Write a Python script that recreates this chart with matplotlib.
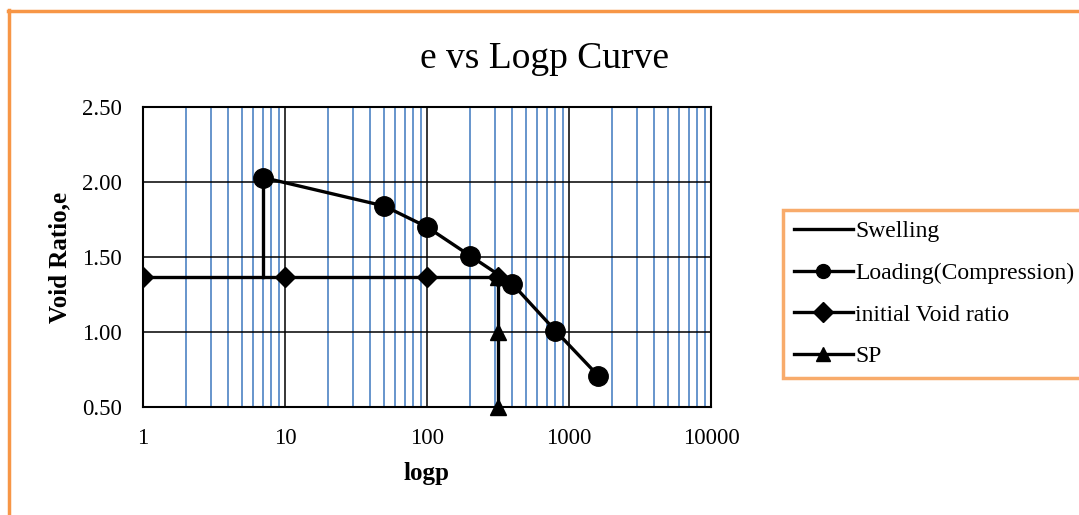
import matplotlib
matplotlib.use("Agg")
import matplotlib.pyplot as plt
from matplotlib.ticker import LogLocator, FixedLocator, NullFormatter, FixedFormatter
from matplotlib.lines import Line2D

# ---- data ----
swell_p = [7, 7]
swell_e = [1.37, 2.03]

load_p = [7, 50, 100, 200, 400, 800, 1600]
load_e = [2.03, 1.84, 1.70, 1.51, 1.32, 1.01, 0.71]

init_p = [1, 10, 100, 316]
init_e = [1.37, 1.37, 1.37, 1.37]

sp_p = [316, 316, 316]
sp_e = [1.37, 1.00, 0.50]

x_ticks = [1, 10, 100, 1000, 10000]
x_tick_labels = ["1", "10", "100", "1000", "10000"]
y_ticks = [0.5, 1.0, 1.5, 2.0, 2.5]
y_tick_labels = ["0.50", "1.00", "1.50", "2.00", "2.50"]

ORANGE = "#F79646"
BLUE = "#5B8CC8"

plt.rcParams["font.family"] = ["Liberation Serif", "DejaVu Serif"]

W, H = 1079, 515
fig = plt.figure(figsize=(W / 100, H / 100), dpi=100)
ax = fig.add_axes([143 / W, 1 - 407 / H, (711 - 143) / W, (407 - 107) / H])

lw = 2.4
ax.plot(swell_p, swell_e, color="black", lw=lw, label="Swelling", zorder=3)
ax.plot(load_p, load_e, color="black", lw=lw, marker="o", ms=14, label="Loading(Compression)", zorder=4)
ax.plot(init_p, init_e, color="black", lw=lw, marker="D", ms=10.5, label="initial Void ratio", zorder=3)
ax.plot(sp_p, sp_e, color="black", lw=lw, marker="^", ms=11, label="SP", zorder=5, clip_on=False)

ax.set_xscale("log")
ax.set_xlim(1, 10000)
ax.set_ylim(0.5, 2.5)

ax.xaxis.set_major_locator(FixedLocator(x_ticks))
ax.xaxis.set_major_formatter(FixedFormatter(x_tick_labels))
ax.xaxis.set_minor_locator(LogLocator(base=10, subs=range(2, 10)))
ax.xaxis.set_minor_formatter(NullFormatter())
ax.yaxis.set_major_locator(FixedLocator(y_ticks))
ax.yaxis.set_major_formatter(FixedFormatter(y_tick_labels))

ax.grid(which="minor", axis="x", color=BLUE, lw=1.3, zorder=0)
ax.grid(which="major", axis="both", color="black", lw=1.1, zorder=1)
ax.set_axisbelow(True)

for s in ax.spines.values():
    s.set_linewidth(1.5)
    s.set_color("black")

ax.tick_params(which="both", length=0)
ax.tick_params(axis="y", pad=15, labelsize=16.5)
ax.tick_params(axis="x", pad=15, labelsize=16.5)

ax.set_xlabel("logp", fontsize=18, fontweight="bold")
ax.xaxis.set_label_coords(0.5, -0.183)
ax.set_ylabel("Void Ratio,e", fontsize=18, fontweight="bold")
ax.yaxis.set_label_coords(-0.146, 0.5)
ax.yaxis.label.set_va("center")

fig.text(545 / W, 1 - 68 / H, "e vs Logp Curve", fontsize=27, ha="center", va="baseline")

leg = ax.legend(loc="center left", bbox_to_anchor=(783 / W, 1 - 294 / H),
                bbox_transform=fig.transFigure, fontsize=17, frameon=True,
                fancybox=False, handlelength=2.5, handletextpad=0.1,
                labelspacing=0.85, borderpad=0.45, borderaxespad=0)
leg.get_frame().set_edgecolor(ORANGE)
leg.get_frame().set_linewidth(2.5)
for h in leg.legend_handles:
    if isinstance(h, Line2D) and h.get_marker() not in (None, "None", ""):
        h.set_markersize(10)

# orange outer chart border
fig.add_artist(Line2D([8.5 / W, 8.5 / W], [0, 1 - 10 / H], transform=fig.transFigure,
                      color=ORANGE, lw=2.5))
fig.add_artist(Line2D([7.5 / W, 1], [1 - 10.5 / H, 1 - 10.5 / H], transform=fig.transFigure,
                      color=ORANGE, lw=2.5))

fig.savefig("out.png", dpi=100)
